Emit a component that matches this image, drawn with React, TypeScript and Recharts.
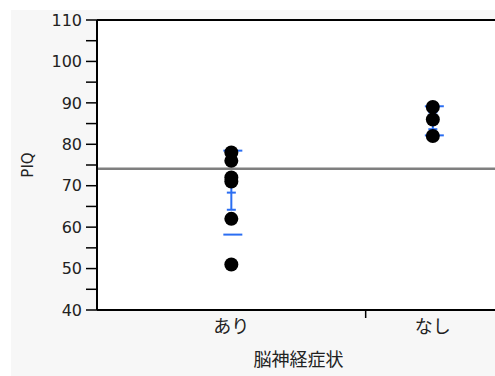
import { CartesianGrid, ReferenceLine, Scatter, ScatterChart, XAxis, YAxis } from "recharts";

// PIQ by 脳神経症状 group
const groupNames = ["あり", "なし"];
const ariValues = [78, 76, 72, 71, 62, 51];
const nashiValues = [89, 86, 82];
const yTicks = [40, 45, 50, 55, 60, 65, 70, 75, 80, 85, 90, 95, 100, 105, 110];

const BLUE = "#2b6ef2";
const INK = "#222";

const groupValues = [ariValues, nashiValues];
const total = groupValues.reduce((s, g) => s + g.length, 0);

// x axis proportional to group size (like JMP)
const starts: number[] = [];
let acc = 0;
groupValues.forEach(g => { starts.push(acc); acc += g.length; });
const centers = groupValues.map((g, i) => starts[i] + g.length / 2);
const bounds = starts.slice(1);

const mean = (a: number[]) => a.reduce((s, v) => s + v, 0) / a.length;
const sd = (a: number[]) => {
  const m = mean(a);
  return Math.sqrt(a.reduce((s, v) => s + (v - m) ** 2, 0) / (a.length - 1));
};

const points = groupValues.flatMap((g, i) => g.map(v => ({ x: centers[i], y: v })));
const sdLines = groupValues.flatMap((g, i) => [
  { x: centers[i], y: mean(g) + sd(g) },
  { x: centers[i], y: mean(g) - sd(g) },
]);
const means = groupValues.map((g, i) => ({ x: centers[i], y: mean(g) }));
// mean ± std error, one pair per group
const errBars = groupValues.map((g, i) => {
  const se = sd(g) / Math.sqrt(g.length);
  return [{ x: centers[i], y: mean(g) + se }, { x: centers[i], y: mean(g) - se }];
});
const grandMean = mean(groupValues.flat());

const XTick = (props: any) => {
  const { x, y, payload } = props;
  const idx = centers.indexOf(payload.value);
  if (idx < 0) {
    return <line x1={x} x2={x} y1={y} y2={y + 8} stroke="#000" strokeWidth={1.5} />;
  }
  return (
    <text x={x} y={y + 15} textAnchor="middle" dominantBaseline="central" fontSize={18} fill={INK}
      fontFamily="'Noto Sans CJK JP', sans-serif">
      {groupNames[idx]}
    </text>
  );
};

const hLine = (left: number, right: number) => (p: any) =>
  <line x1={p.cx - left} x2={p.cx + right} y1={p.cy} y2={p.cy} stroke={BLUE} strokeWidth={2} />;

export default function App() {
  return (
    <div style={{ position: "absolute", left: 0, top: 0, width: 495, height: 376, overflow: "hidden", background: "#fff" }}>
      <div style={{ position: "absolute", left: 11, top: 10, width: 494, height: 366, background: "#f7f7f7" }}>
        <ScatterChart width={489} height={366} margin={{ top: 10, right: 0, bottom: 0, left: 0 }}
          style={{ fontFamily: "'DejaVu Sans', sans-serif" }}>
          <CartesianGrid horizontal={false} vertical={false} fill="#fff" />
          <XAxis type="number" dataKey="x" domain={[0, total]} ticks={[...centers, ...bounds].sort((a, b) => a - b)}
            height={66} tickSize={0} tickMargin={0} tick={<XTick />} allowDataOverflow
            axisLine={{ stroke: "#000", strokeWidth: 2 }} tickLine={false}
            label={(p: any) => {
              const vb = p.viewBox;
              return (
                <text x={vb.x + vb.width / 2} y={348} textAnchor="middle" dominantBaseline="central" fontSize={18}
                  fill={INK} fontFamily="'Noto Sans CJK JP', sans-serif">脳神経症状</text>
              );
            }} />
          <YAxis type="number" dataKey="y" domain={[40, 110]} ticks={yTicks} width={86} allowDataOverflow
            interval={0} tickSize={11} tickMargin={4}
            tick={{ fontSize: 16, fill: INK }} tickFormatter={(v: number) => (v % 10 === 0 ? String(v) : "")}
            axisLine={{ stroke: "#000", strokeWidth: 2 }} tickLine={{ stroke: "#000", strokeWidth: 1.5 }}
            label={(p: any) => {
              const vb = p.viewBox;
              return (
                <text x={17} y={vb.y + vb.height / 2} textAnchor="middle" dominantBaseline="central" fontSize={15}
                  fill={INK} transform={`rotate(-90, 17, ${vb.y + vb.height / 2})`}>PIQ</text>
              );
            }} />
          <Scatter data={sdLines} isAnimationActive={false} shape={hLine(8, 11)} />
          {errBars.map((d, i) => (
            <Scatter key={i} data={d} isAnimationActive={false} line={{ stroke: BLUE, strokeWidth: 2 }}
              shape={hLine(4.5, 4.5)} />
          ))}
          <Scatter data={means} isAnimationActive={false} shape={hLine(4.5, 4.5)} />
          <Scatter data={points} isAnimationActive={false}
            shape={(p: any) => <circle cx={p.cx} cy={p.cy} r={7} fill="#000" />} />
          <ReferenceLine y={grandMean} stroke="#7f7f7f" strokeWidth={2.5} />
          <ReferenceLine y={110} stroke="#000" strokeWidth={2} />
        </ScatterChart>
      </div>
    </div>
  );
}
